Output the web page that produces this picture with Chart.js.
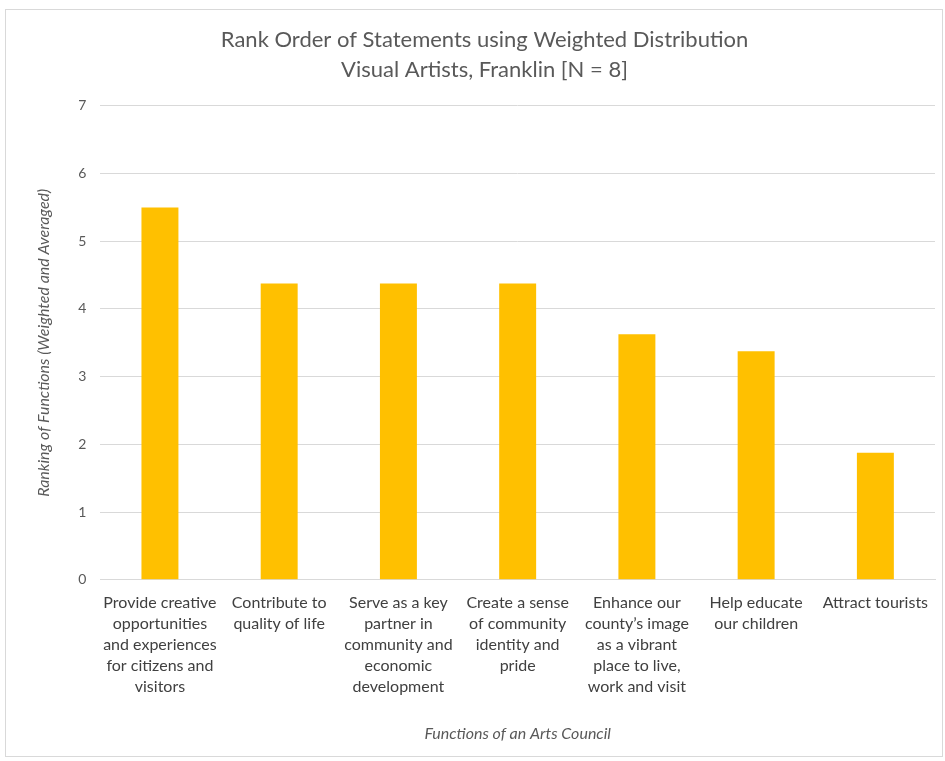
<!DOCTYPE html>
<html>
<head>
<meta charset="utf-8">
<script src="https://cdn.jsdelivr.net/npm/chart.js@4.4.1/dist/chart.umd.min.js"></script>
<style>
  body { margin: 0; background: #fff; }
  #wrap { position: relative; width: 945px; height: 761px; }
  #frame { position: absolute; left: 5px; top: 9px; width: 936px; height: 746px; border: 1px solid #d9d9d9; pointer-events: none; }
</style>
</head>
<body>
<div id="wrap">
  <canvas id="myChart" width="945" height="761"></canvas>
  <div id="frame"></div>
</div>
<script>
// categories (wrapped like the original)
var functionLabels = [
	["Provide creative", "opportunities", "and experiences", "for citizens and", "visitors"],
	["Contribute to", "quality of life"],
	["Serve as a key", "partner in", "community and", "economic", "development"],
	["Create a sense", "of community", "identity and", "pride"],
	["Enhance our", "county\u2019s image", "as a vibrant", "place to live,", "work and visit"],
	["Help educate", "our children"],
	["Attract tourists"],
];

// weighted and averaged ranking
var rankValues = [5.5, 4.375, 4.375, 4.375, 3.625, 3.375, 1.875];

var chartTitle = ["Rank Order of Statements using Weighted Distribution", "Visual Artists, Franklin [N = 8]"];
var yTitle = "Ranking of Functions (Weighted and Averaged)";
var xTitle = "Functions of an Arts Council";

var ctx = document.getElementById("myChart").getContext("2d");

var myChart = new Chart(ctx, {
	type: "bar",
	data: {
		labels: functionLabels,
		datasets: [
			{
				label: "Ranking",
				data: rankValues,
				backgroundColor: "#FFC000",
				borderWidth: 0,
				barPercentage: 0.62,
				categoryPercentage: 0.5,
			},
		],
	},
	options: {
		responsive: false,
		animation: false,
		layout: {
			padding: { left: 34, right: 10, top: 25, bottom: 18 },
		},
		plugins: {
			legend: { display: false },
			tooltip: { enabled: false },
			title: {
				display: true,
				text: chartTitle,
				color: "#595959",
				font: { family: "Lato", size: 22, weight: "normal", lineHeight: 1.36 },
				padding: { top: 0, bottom: 21 },
			},
		},
		scales: {
			x: {
				grid: { display: false },
				border: { color: "#d9d9d9" },
				ticks: {
					color: "#404040",
					font: { family: "Lato", size: 16, lineHeight: 1.3 },
					maxRotation: 0,
					autoSkip: false,
					padding: 5,
				},
				title: {
					display: true,
					text: xTitle,
					color: "#595959",
					font: { family: "Lato", size: 16, style: "italic" },
					padding: { top: 22, bottom: 0 },
				},
			},
			y: {
				min: 0,
				max: 7,
				grid: { color: "#d9d9d9", drawTicks: false },
				border: { display: false },
				ticks: {
					stepSize: 1,
					color: "#595959",
					font: { family: "Lato", size: 14 },
					padding: 14,
				},
				title: {
					display: true,
					text: yTitle,
					color: "#595959",
					font: { family: "Lato", size: 16, style: "italic" },
					padding: { top: 0, bottom: 11 },
				},
			},
		},
	},
});
</script>
</body>
</html>
